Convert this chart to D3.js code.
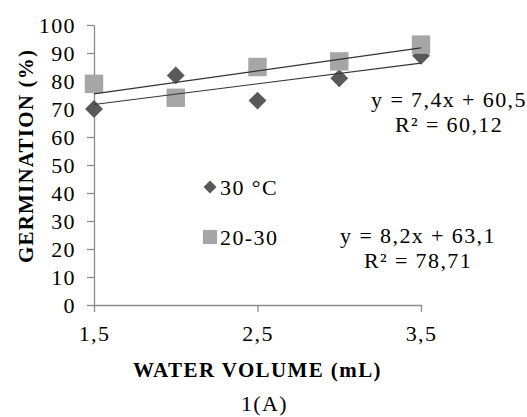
<!DOCTYPE html>
<html>
<head>
<meta charset="utf-8">
<script src="https://cdn.jsdelivr.net/npm/d3@7"></script>
<style>
  body { margin: 0; background: #fff; }
  svg text { font-family: "Liberation Serif", "Times New Roman", serif; fill: #000; }
</style>
</head>
<body>
<div id="chart-area"></div>
<script>
// water volume (mL)
var volumes = [1.5, 2.0, 2.5, 3.0, 3.5];
// germination (%) per temperature
var germ30 = [70, 82, 73, 81, 89];
var germ2030 = [79, 74, 85, 87, 93];
var seriesNames = ["30 °C", "20-30"];
var xTicks = [1.5, 2.5, 3.5];
var yTicks = [0, 10, 20, 30, 40, 50, 60, 70, 80, 90, 100];
var eqLabels = [["y = 7,4x + 60,5", "R² = 60,12"], ["y = 8,2x + 63,1", "R² = 78,71"]];

var margin = { top: 25, right: 106, bottom: 112, left: 94 };
var width = 527 - margin.left - margin.right;
var height = 417 - margin.top - margin.bottom;

var svg = d3.select("#chart-area").append("svg")
    .attr("width", 527)
    .attr("height", 417)
    .append("g")
    .attr("transform", "translate(" + margin.left + "," + margin.top + ")");

var xScale = d3.scaleLinear().domain([1.5, 3.5]).range([0, width]);
var yScale = d3.scaleLinear().domain([0, 100]).range([height, 0]);
var fmt = function (d) { return String(d).replace(".", ","); };

// axes
var xAxis = svg.append("g")
    .attr("transform", "translate(0," + height + ")")
    .call(d3.axisBottom(xScale).tickValues(xTicks).tickSize(7).tickSizeOuter(0).tickFormat(fmt));
var yAxis = svg.append("g")
    .call(d3.axisLeft(yScale).tickValues(yTicks).tickSize(7).tickSizeOuter(0));

[xAxis, yAxis].forEach(function (ax) {
    ax.attr("font-family", null).attr("font-size", null);
    ax.select(".domain").attr("stroke", "#8c8c8c").attr("stroke-width", 1.3);
    ax.selectAll(".tick line").attr("stroke", "#8c8c8c").attr("stroke-width", 1.3);
    ax.selectAll(".tick text")
        .style("font-size", "22px")
        .style("letter-spacing", "1.4px")
        .attr("fill", "#000");
});
xAxis.selectAll(".tick text").attr("y", 16).attr("dy", "0.9em");
yAxis.selectAll(".tick text").attr("x", -18).attr("dy", "0.35em");

// trend lines (least squares)
function fit(xs, ys) {
    var mx = d3.mean(xs), my = d3.mean(ys);
    var num = d3.sum(xs, function (x, i) { return (x - mx) * (ys[i] - my); });
    var den = d3.sum(xs, function (x) { return (x - mx) * (x - mx); });
    var b = num / den;
    return { slope: b, intercept: my - b * mx };
}

var series = [
    { name: seriesNames[0], values: germ30, color: "#595959", diamond: true },
    { name: seriesNames[1], values: germ2030, color: "#a6a6a6", diamond: false }
];

var xExt = d3.extent(volumes);

// markers
series.forEach(function (s) {
    var sym = d3.symbol().type(d3.symbolSquare).size(s.diamond ? 160 : 340);
    svg.append("g").selectAll("path")
        .data(s.values)
        .enter().append("path")
        .attr("d", sym)
        .attr("fill", s.color)
        .attr("transform", function (d, i) {
            return "translate(" + xScale(volumes[i]) + "," + yScale(d) + ")" + (s.diamond ? " rotate(45)" : "");
        });
});

series.forEach(function (s) {
    var f = fit(volumes, s.values);
    svg.append("line")
        .attr("x1", xScale(xExt[0]))
        .attr("y1", yScale(f.slope * xExt[0] + f.intercept))
        .attr("x2", xScale(xExt[1]))
        .attr("y2", yScale(f.slope * xExt[1] + f.intercept))
        .attr("stroke", "#333")
        .attr("stroke-width", 1.2);
});

// legend
var legend = svg.append("g").attr("transform", "translate(116,162)");
series.forEach(function (s, i) {
    var g = legend.append("g").attr("transform", "translate(0," + (i * 50) + ")");
    g.append("path")
        .attr("d", d3.symbol().type(d3.symbolSquare).size(i === 0 ? 85 : 200))
        .attr("fill", s.color)
        .attr("transform", i === 0 ? "rotate(45)" : "");
    g.append("text")
        .attr("x", 10)
        .attr("dy", "0.35em")
        .style("font-size", "22px")
        .style("letter-spacing", "1.4px")
        .text(s.name);
});

// equations
var eqPos = [[355, 82], [324, 218]];
eqLabels.forEach(function (lab, i) {
    lab.forEach(function (t, j) {
        svg.append("text")
            .attr("x", eqPos[i][0])
            .attr("y", eqPos[i][1] + j * 25)
            .attr("text-anchor", "middle")
            .style("font-size", "22px")
            .style("letter-spacing", "1.4px")
            .text(t);
    });
});

// axis titles
svg.append("text")
    .attr("x", width / 2)
    .attr("y", height + 72)
    .attr("text-anchor", "middle")
    .style("font-size", "21px")
    .style("font-weight", "bold")
    .style("letter-spacing", "1.4px")
    .text("WATER VOLUME (mL)");

svg.append("text")
    .attr("transform", "translate(-61," + (height / 2 - 9) + ") rotate(-90)")
    .attr("text-anchor", "middle")
    .style("font-size", "21px")
    .style("font-weight", "bold")
    .style("letter-spacing", "1.2px")
    .text("GERMINATION (%)");

svg.append("text")
    .attr("x", width / 2 + 7)
    .attr("y", height + 106)
    .attr("text-anchor", "middle")
    .style("font-size", "22px")
    .style("letter-spacing", "1.4px")
    .text("1(A)");
</script>
</body>
</html>
